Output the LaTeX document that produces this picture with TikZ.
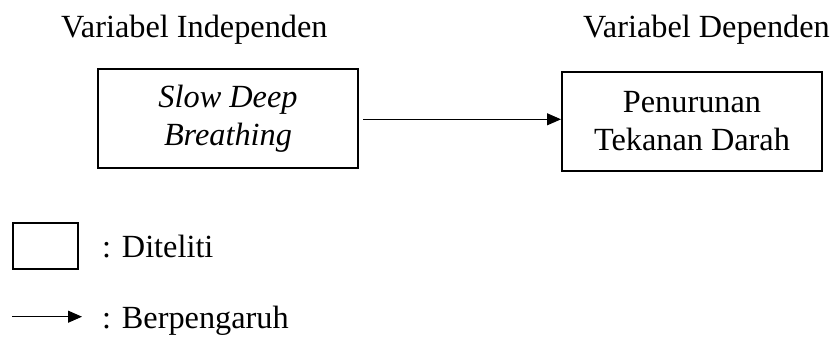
\documentclass[tikz,border=0pt]{standalone}
\usepackage{fontspec}
\setmainfont{Liberation Serif}
\usetikzlibrary{arrows.meta}
\begin{document}
\begin{tikzpicture}[x=1pt,y=-1pt,
  box/.style={draw,line width=2pt,minimum width=260pt,minimum height=99pt,align=center,inner sep=0pt,font=\fontsize{32.3}{38}\selectfont},
  lbl/.style={anchor=base west,inner sep=0pt,font=\fontsize{32.3}{38}\selectfont},
  conn/.style={line width=1pt,-{Triangle[length=14pt,width=12pt]}}]
\useasboundingbox (0,0) rectangle (831,338);
\node[lbl] (hi) at (61,37) {Variabel Independen};
\node[lbl] (hd) at (583,37) {Variabel Dependen};
\node[box] (sdb) at (228,118.5) {\textit{Slow Deep}\\\textit{Breathing}};
\node[box] (ptd) at (692,121) {Penurunan\\Tekanan Darah};
\coordinate (s) at (363,119.3);
\draw[conn] (s) -- (s -| ptd.west);
\node[draw,line width=2pt,minimum width=65pt,minimum height=46pt,inner sep=0pt] (lbox) at (45.5,246) {};
\node[lbl] (lt) at (102,257) {: Diteliti};
\coordinate (la) at (12,316.7);
\coordinate (lz) at (82,316.7);
\draw[conn] (la) -- (lz);
\node[lbl] (lt2) at (102,328) {: Berpengaruh};
\end{tikzpicture}
\end{document}
